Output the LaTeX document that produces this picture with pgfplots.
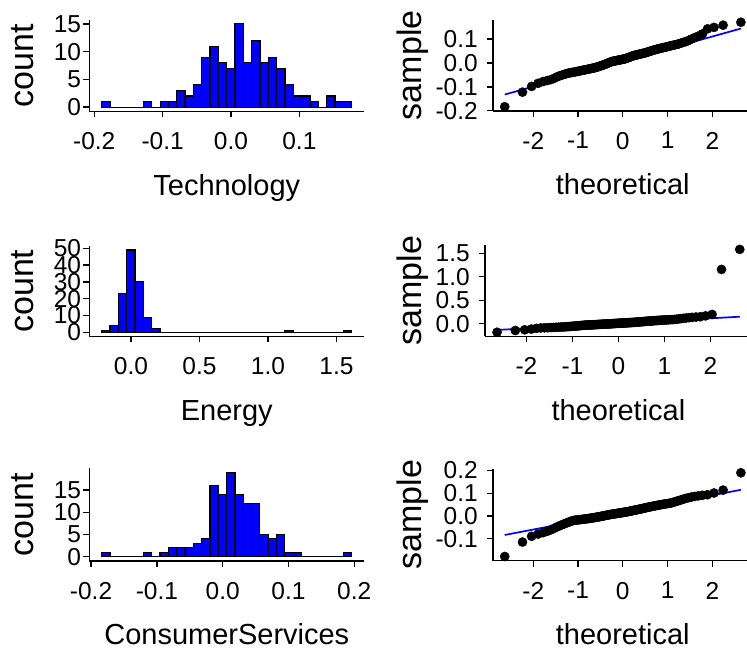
\documentclass[border=0pt]{standalone}
\usepackage{fontspec}
\setmainfont{Liberation Sans}
\usepackage{pgfplots}
\usepackage{pgfplotstable}
\pgfplotsset{compat=1.18}

\pgfplotstableread{
x t e c
-2.638 -0.183 -0.183 -0.1776
-2.241 -0.122 -0.1456 -0.1143
-2.037 -0.098 -0.1304 -0.0890
-1.893 -0.085 -0.1152 -0.0794
-1.780 -0.0775 -0.1000 -0.0731
-1.687 -0.0734 -0.0911 -0.0668
-1.606 -0.0694 -0.0884 -0.0605
-1.534 -0.0643 -0.0858 -0.0541
-1.470 -0.0582 -0.0832 -0.0478
-1.411 -0.0536 -0.0805 -0.0425
-1.356 -0.0506 -0.0779 -0.0383
-1.306 -0.0475 -0.0752 -0.0341
-1.258 -0.0445 -0.0726 -0.0304
-1.213 -0.0422 -0.0699 -0.0272
-1.171 -0.0409 -0.0673 -0.0241
-1.131 -0.0395 -0.0647 -0.0209
-1.092 -0.0382 -0.0620 -0.0189
-1.055 -0.0368 -0.0594 -0.0181
-1.019 -0.0355 -0.0567 -0.0173
-0.984 -0.0341 -0.0541 -0.0165
-0.951 -0.0328 -0.0514 -0.0157
-0.918 -0.0314 -0.0488 -0.0149
-0.887 -0.0302 -0.0462 -0.0141
-0.856 -0.0291 -0.0435 -0.0133
-0.827 -0.0280 -0.0409 -0.0126
-0.798 -0.0269 -0.0382 -0.0118
-0.769 -0.0258 -0.0356 -0.0110
-0.742 -0.0247 -0.0329 -0.0102
-0.714 -0.0235 -0.0310 -0.0094
-0.688 -0.0224 -0.0297 -0.0086
-0.662 -0.0213 -0.0285 -0.0078
-0.636 -0.0202 -0.0272 -0.0070
-0.610 -0.0191 -0.0260 -0.0061
-0.585 -0.0178 -0.0248 -0.0052
-0.561 -0.0163 -0.0235 -0.0043
-0.536 -0.0148 -0.0223 -0.0034
-0.512 -0.0133 -0.0210 -0.0025
-0.489 -0.0117 -0.0198 -0.0016
-0.465 -0.0102 -0.0186 -0.0007
-0.442 -0.0087 -0.0173 0.0002
-0.419 -0.0072 -0.0161 0.0011
-0.396 -0.0055 -0.0148 0.0020
-0.374 -0.0038 -0.0136 0.0029
-0.352 -0.0020 -0.0124 0.0038
-0.330 -0.0003 -0.0111 0.0047
-0.308 0.0015 -0.0099 0.0056
-0.286 0.0032 -0.0086 0.0064
-0.264 0.0049 -0.0074 0.0071
-0.243 0.0062 -0.0062 0.0078
-0.221 0.0070 -0.0049 0.0084
-0.200 0.0078 -0.0037 0.0091
-0.179 0.0086 -0.0024 0.0098
-0.157 0.0094 -0.0012 0.0104
-0.136 0.0103 0.0000 0.0111
-0.115 0.0111 0.0012 0.0118
-0.094 0.0119 0.0025 0.0124
-0.073 0.0127 0.0037 0.0131
-0.052 0.0135 0.0050 0.0138
-0.031 0.0143 0.0062 0.0144
-0.010 0.0151 0.0074 0.0151
0.010 0.0159 0.0087 0.0158
0.031 0.0167 0.0099 0.0164
0.052 0.0175 0.0112 0.0171
0.073 0.0188 0.0124 0.0178
0.094 0.0203 0.0136 0.0184
0.115 0.0218 0.0149 0.0192
0.136 0.0233 0.0161 0.0201
0.157 0.0249 0.0174 0.0210
0.179 0.0264 0.0186 0.0219
0.200 0.0279 0.0198 0.0228
0.221 0.0294 0.0211 0.0237
0.243 0.0307 0.0223 0.0246
0.264 0.0317 0.0236 0.0255
0.286 0.0327 0.0248 0.0264
0.308 0.0337 0.0260 0.0273
0.330 0.0347 0.0273 0.0282
0.352 0.0357 0.0285 0.0291
0.374 0.0368 0.0302 0.0300
0.396 0.0378 0.0322 0.0309
0.419 0.0388 0.0342 0.0319
0.442 0.0398 0.0363 0.0330
0.465 0.0408 0.0383 0.0340
0.489 0.0418 0.0403 0.0351
0.512 0.0431 0.0424 0.0361
0.536 0.0446 0.0444 0.0372
0.561 0.0461 0.0464 0.0382
0.585 0.0477 0.0484 0.0393
0.610 0.0492 0.0505 0.0403
0.636 0.0507 0.0525 0.0414
0.662 0.0522 0.0545 0.0424
0.688 0.0537 0.0565 0.0435
0.714 0.0552 0.0586 0.0446
0.742 0.0565 0.0606 0.0457
0.769 0.0579 0.0626 0.0467
0.798 0.0592 0.0647 0.0478
0.827 0.0606 0.0667 0.0488
0.856 0.0619 0.0687 0.0499
0.887 0.0633 0.0707 0.0509
0.918 0.0647 0.0728 0.0520
0.951 0.0660 0.0748 0.0530
0.984 0.0676 0.0768 0.0541
1.019 0.0693 0.0788 0.0551
1.055 0.0711 0.0809 0.0562
1.092 0.0728 0.0829 0.0580
1.131 0.0745 0.0849 0.0605
1.171 0.0763 0.0870 0.0630
1.213 0.0780 0.0890 0.0656
1.258 0.0804 0.0934 0.0681
1.306 0.0834 0.1001 0.0710
1.356 0.0865 0.1069 0.0741
1.411 0.0895 0.1137 0.0773
1.470 0.0941 0.1204 0.0805
1.534 0.1002 0.1272 0.0833
1.606 0.1062 0.1340 0.0858
1.687 0.1123 0.1407 0.0884
1.780 0.1215 0.1475 0.0909
1.893 0.1427 0.1660 0.0934
2.037 0.1488 0.1964 0.1010
2.241 0.1580 1.154 0.1137
2.638 0.1702 1.5806 0.1897
}\qqdata

\pgfplotstableread{
x y
-0.1890 1
-0.1768 0
-0.1646 0
-0.1525 0
-0.1403 0
-0.1281 1
-0.1159 0
-0.1037 1
-0.0916 1
-0.0794 3
-0.0672 2
-0.0550 4
-0.0428 9
-0.0307 11
-0.0185 8
-0.0063 7
0.0059 15
0.0181 8
0.0302 12
0.0424 8
0.0546 9
0.0668 7
0.0790 4
0.0911 2
0.1033 2
0.1155 1
0.1277 0
0.1399 2
0.1520 1
0.1642 1
0.1764 0
}\histtech

\pgfplotstableread{
x y
-0.2140 1
-0.1532 4
-0.0924 23
-0.0316 49
0.0292 30
0.0900 9
0.1508 2
0.2116 0
0.2724 0
0.3332 0
0.3940 0
0.4548 0
0.5156 0
0.5764 0
0.6372 0
0.6980 0
0.7588 0
0.8196 0
0.8804 0
0.9412 0
1.0020 0
1.0628 0
1.1236 1
1.1844 0
1.2452 0
1.3060 0
1.3668 0
1.4276 0
1.4884 0
1.5492 1
1.6100 0
}\histenergy

\pgfplotstableread{
x y
-0.1839 1
-0.1712 0
-0.1586 0
-0.1459 0
-0.1333 0
-0.1206 1
-0.1079 0
-0.0953 1
-0.0826 2
-0.0700 2
-0.0573 2
-0.0446 3
-0.0320 4
-0.0193 16
-0.0067 14
0.0060 19
0.0187 14
0.0313 12
0.0440 12
0.0566 5
0.0693 4
0.0820 5
0.0946 1
0.1073 1
0.1199 0
0.1326 0
0.1453 0
0.1579 0
0.1706 0
0.1832 1
0.1959 0
}\histcons

\pgfplotsset{
  base/.style={
    scale only axis, enlargelimits=false,
    axis lines=left, axis line style={-, line width=1.4pt, black},
    tick align=outside, major tick length=6pt,
    major tick style={line width=1.3pt, black},
    tick label style={font=\fontsize{24.5}{28}\selectfont, inner sep=0pt},
    xticklabel style={anchor=north, yshift=-15pt},
    every axis x label/.style={at={(axis description cs:0.5,0)}, anchor=base,
      yshift=-84pt, font=\fontsize{29}{32}\selectfont},
  },
  ylab/.style={every axis y label/.style={at={([xshift=-#1pt]axis description cs:0,0.5)},
      rotate=90, anchor=base, font=\fontsize{34}{36}\selectfont}},
  hist/.style={base, width=275pt, yticklabel style={anchor=east, xshift=-2pt}, ylab=56, ylabel={count}},
  qq/.style={base, clip=false, yticklabel style={anchor=east, xshift=-9pt}, xmin=-2.9, xmax=2.9,
    xtick={-2,-1,0,1,2}, xticklabels={-2,-1,0,1,2}, xlabel={theoretical}, ylabel={sample}},
  bars/.style={ybar interval, fill=blue, draw=black, line width=1.1pt},
  pts/.style={only marks, mark=*, mark size=4.6pt, mark options={fill=black, draw=black}},
  qline/.style={blue, line width=1.7pt},
}

\begin{document}
\begin{tikzpicture}
\path[use as bounding box] (0pt,0pt) rectangle (747pt,654pt);

% Technology histogram
\begin{axis}[hist, at={(89.3pt,542.7pt)}, anchor=south west, height=91.6pt,
  xmin=-0.2072, xmax=0.1949, ymin=-0.75, ymax=15.75,
  xtick={-0.2,-0.1,0,0.1}, xticklabels={-0.2,-0.1,0.0,0.1},
  ytick={0,5,10,15}, yticklabels={0,5,10,15}, xlabel={Technology}]
\addplot[bars] table[x=x,y=y] {\histtech};
\end{axis}

% Technology QQ
\begin{axis}[qq, ylab=71.3, at={(493pt,543.1pt)}, anchor=south west, width=259.6pt, height=91.2pt,
  ymin=-0.2004, ymax=0.181,
  ytick={-0.2,-0.1,0,0.1}, yticklabels={-0.2,-0.1,0.0,0.1}]
\addplot[pts] table[x=x,y=t] {\qqdata};
\addplot[qline] coordinates {(-2.638,-0.132) (2.638,0.144)};
\end{axis}

% Energy histogram
\begin{axis}[hist, at={(89.3pt,317.6pt)}, anchor=south west, height=90.5pt,
  xmin=-0.3044, xmax=1.703, ymin=-2.45, ymax=51.45,
  xtick={0,0.5,1,1.5}, xticklabels={0.0,0.5,1.0,1.5},
  ytick={0,10,20,30,40,50}, yticklabels={0,10,20,30,40,50}, xlabel={Energy}]
\addplot[bars] table[x=x,y=y] {\histenergy};
\end{axis}

% Energy QQ
\begin{axis}[qq, ylab=63.3, at={(485pt,317.6pt)}, anchor=south west, width=266.8pt, height=91.1pt,
  ymin=-0.271, ymax=1.668,
  ytick={0,0.5,1,1.5}, yticklabels={0.0,0.5,1.0,1.5}]
\addplot[pts] table[x=x,y=e] {\qqdata};
\addplot[qline] coordinates {(-2.638,-0.134) (2.638,0.148)};
\end{axis}

% ConsumerServices histogram
\begin{axis}[hist, at={(89.3pt,93.1pt)}, anchor=south west, height=92.8pt,
  xmin=-0.2027, xmax=0.2153, ymin=-0.95, ymax=19.95,
  xtick={-0.2,-0.1,0,0.1,0.2}, xticklabels={-0.2,-0.1,0.0,0.1,0.2},
  ytick={0,5,10,15}, yticklabels={0,5,10,15}, xlabel={ConsumerServices}]
\addplot[bars] table[x=x,y=y] {\histcons};
\end{axis}

% ConsumerServices QQ
\begin{axis}[qq, ylab=71.3, at={(493pt,93.3pt)}, anchor=south west, width=259.6pt, height=92.1pt,
  ymin=-0.196, ymax=0.208,
  ytick={-0.1,0,0.1,0.2}, yticklabels={-0.1,0.0,0.1,0.2}]
\addplot[pts] table[x=x,y=c] {\qqdata};
\addplot[qline] coordinates {(-2.638,-0.0832) (2.638,0.115)};
\end{axis}
\end{tikzpicture}
\end{document}
